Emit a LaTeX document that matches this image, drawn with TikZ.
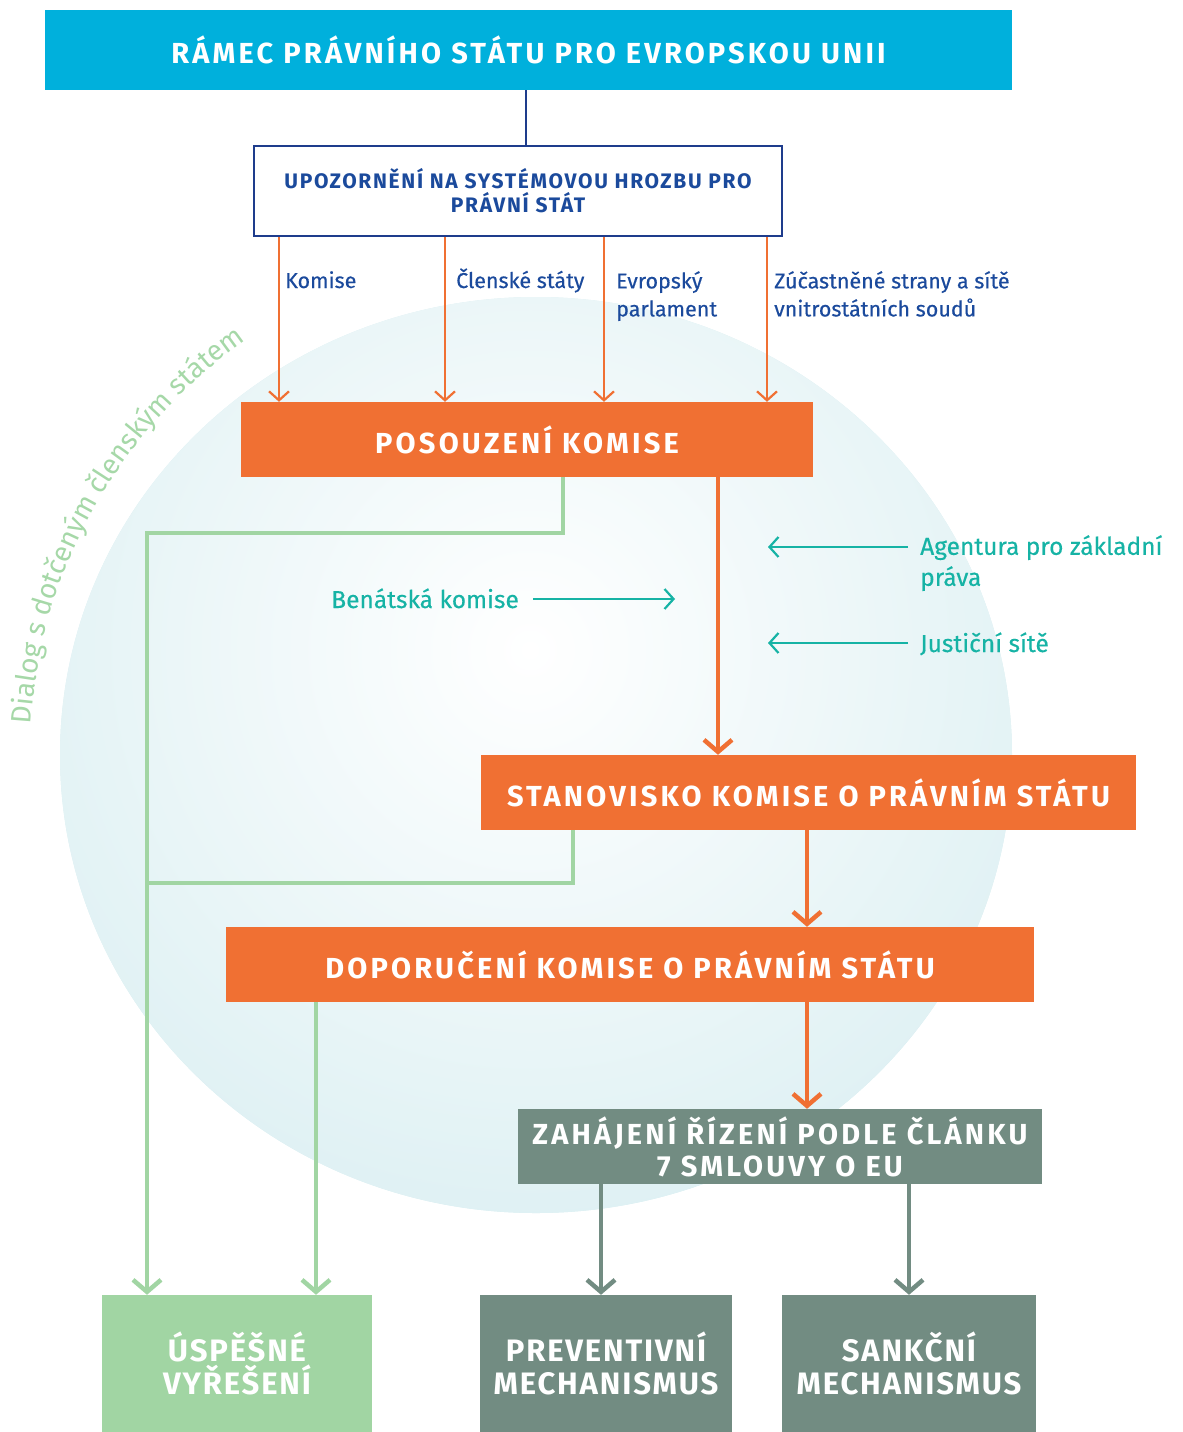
\documentclass[tikz,border=0pt]{standalone}
\usepackage{fontspec}
\setmainfont{Fira Sans}
\newfontfamily\spaced[LetterSpace=11]{Fira Sans}
\newfontfamily\spacedb[LetterSpace=8]{Fira Sans}
\newfontfamily\spacedc[LetterSpace=6]{Fira Sans}
\newfontfamily\medium[FakeBold=0.4]{Fira Sans}
\usetikzlibrary{arrows.meta,decorations.text}
\definecolor{cyanbox}{HTML}{00B0DC}
\definecolor{navy}{HTML}{1B4A9C}
\definecolor{navyline}{HTML}{1E3C8C}
\definecolor{orng}{HTML}{F07033}
\definecolor{grn}{HTML}{A1D5A3}
\definecolor{arcgrn}{HTML}{A6D8A8}
\definecolor{gry}{HTML}{728C82}
\definecolor{teal}{HTML}{16B3A5}
\definecolor{circ}{HTML}{DBEFF2}
\begin{document}
\begin{tikzpicture}[x=1pt,y=-1pt,
  fillbox/.style={fill=#1, inner sep=0pt, text=white, align=center},
  titlefont/.style={font=\spaced\bfseries\fontsize{#1}{#1}\selectfont},
  bottomfont/.style={font=\spacedc\bfseries\fontsize{31}{33}\selectfont},
  bluelabel/.style={text=navy, inner sep=0pt, font=\medium\fontsize{21.5}{28}\selectfont, align=left},
  teallabel/.style={text=teal, inner sep=0pt, font=\medium\fontsize{24.5}{31}\selectfont, align=left},
  thinarrow/.style={draw=orng, line width=2.2pt, -{Straight Barb[length=9pt,width=20pt]}},
  thickarrow/.style={draw=orng, line width=4.5pt, -{Straight Barb[length=12pt,width=28pt]}},
  grnline/.style={draw=grn, line width=4.5pt, line join=miter},
  grnarrow/.style={grnline, -{Straight Barb[length=12pt,width=28pt]}},
  gryarrow/.style={draw=gry, line width=4.5pt, -{Straight Barb[length=12pt,width=28pt]}},
  tealarrow/.style={draw=teal, line width=2.2pt, -{Straight Barb[length=9pt,width=20pt]}}
]
\useasboundingbox (0,0) rectangle (1183,1432);
% background circle
\fill[circ] (536,755) ellipse [x radius=476, y radius=458];
\begin{scope}
  \clip (536,755) ellipse [x radius=476, y radius=458];
  \shade[inner color=white, outer color=circ] (530,650) circle [radius=640];
\end{scope}
% arc text
\begin{scope}[shift={(536,755)}]
  \path[decorate, decoration={text along path, text align=center, text color=arcgrn,
     text={|\fontsize{28}{30}\selectfont|Dialog s dotčeným členským státem}}]
     (-180:506) arc[start angle=-180, end angle=-121.5, radius=506];
\end{scope}
% boxes
\node[fillbox=cyanbox, minimum width=967, minimum height=80, titlefont=29] (top) at (528.5,50) {RÁMEC PRÁVNÍHO STÁTU PRO EVROPSKOU UNII};
\node[draw=navyline, line width=2pt, fill=white, text=navy, align=center, minimum width=528, minimum height=90, inner sep=0pt, font=\spacedb\bfseries\fontsize{21}{24}\selectfont] (warn) at (518,191) {UPOZORNĚNÍ NA SYSTÉMOVOU HROZBU PRO\\PRÁVNÍ STÁT};
\node[fillbox=orng, minimum width=572, minimum height=75, titlefont=29] (pos) at (527,439.5) {POSOUZENÍ KOMISE};
\node[fillbox=orng, minimum width=655, minimum height=75, titlefont=29] (stan) at (808.5,792.5) {STANOVISKO KOMISE O PRÁVNÍM STÁTU};
\node[fillbox=orng, minimum width=808, minimum height=75, titlefont=29] (dop) at (630,964.5) {DOPORUČENÍ KOMISE O PRÁVNÍM STÁTU};
\node[fillbox=gry, minimum width=524, minimum height=75, font=\spaced\bfseries\fontsize{29}{32}\selectfont] (zah) at (780,1146.5) {ZAHÁJENÍ ŘÍZENÍ PODLE ČLÁNKU\\7 SMLOUVY O EU};
\node[fillbox=grn, minimum width=270, minimum height=137, bottomfont] (usp) at (237,1363.5) {ÚSPĚŠNÉ\\VYŘEŠENÍ};
\node[fillbox=gry, minimum width=252, minimum height=137, bottomfont] (prev) at (606,1363.5) {PREVENTIVNÍ\\MECHANISMUS};
\node[fillbox=gry, minimum width=254, minimum height=137, bottomfont] (sank) at (909,1363.5) {SANKČNÍ\\MECHANISMUS};
% top connector
\coordinate (xt) at (526,0);
\draw[navyline, line width=2pt] (top.south -| xt) -- (warn.north -| xt);
% x positions
\coordinate (x1) at (279,0);
\coordinate (x2) at (445,0);
\coordinate (x3) at (604,0);
\coordinate (x4) at (767,0);
\coordinate (xo1) at (718,0);
\coordinate (xo2) at (807,0);
\coordinate (xg1) at (563,0);
\coordinate (xg2) at (573,0);
\coordinate (xg3) at (316,0);
\coordinate (xl) at (147,0);
\coordinate (xp) at (601,0);
\coordinate (xs) at (909,0);
\coordinate (yg1) at (0,533);
\coordinate (yg2) at (0,883);
% thin orange arrows
\draw[thinarrow] (warn.south -| x1) -- (pos.north -| x1);
\draw[thinarrow] (warn.south -| x2) -- (pos.north -| x2);
\draw[thinarrow] (warn.south -| x3) -- (pos.north -| x3);
\draw[thinarrow] (warn.south -| x4) -- (pos.north -| x4);
% blue labels
\node[bluelabel, anchor=base west] (lk) at (285,288) {Komise};
\node[bluelabel, anchor=base west] (lc) at (456,288) {Členské státy};
\node[bluelabel, anchor=north west] (le) at (616,271) {Evropský\\parlament};
\node[bluelabel, anchor=north west] (lz) at (774,271) {Zúčastněné strany a sítě\\vnitrostátních soudů};
% thick orange arrows
\draw[thickarrow] (pos.south -| xo1) -- (stan.north -| xo1);
\draw[thickarrow] (stan.south -| xo2) -- (dop.north -| xo2);
\draw[thickarrow] (dop.south -| xo2) -- (zah.north -| xo2);
% green lines
\draw[grnarrow] (pos.south -| xg1) -- (xg1 |- yg1) -- (xl |- yg1) -- (usp.north -| xl);
\draw[grnline] (stan.south -| xg2) -- (xg2 |- yg2) -- (xl |- yg2);
\draw[grnarrow] (dop.south -| xg3) -- (usp.north -| xg3);
% grey arrows
\draw[gryarrow] (zah.south -| xp) -- (prev.north -| xp);
\draw[gryarrow] (zah.south -| xs) -- (sank.north -| xs);
% teal labels and arrows
\node[teallabel, anchor=north west] (ag) at (920,535) {Agentura pro základní\\práva};
\node[teallabel, anchor=base west] (js) at (920,652) {Justiční sítě};
\node[teallabel, anchor=base east] (bk) at (519,608) {Benátská komise};
\coordinate (t1a) at (908,547);
\coordinate (t1b) at (768,547);
\coordinate (t2a) at (908,643);
\coordinate (t2b) at (768,643);
\coordinate (t3a) at (533,599);
\coordinate (t3b) at (675,599);
\draw[tealarrow] (t1a) -- (t1b);
\draw[tealarrow] (t2a) -- (t2b);
\draw[tealarrow] (t3a) -- (t3b);
\end{tikzpicture}
\end{document}
